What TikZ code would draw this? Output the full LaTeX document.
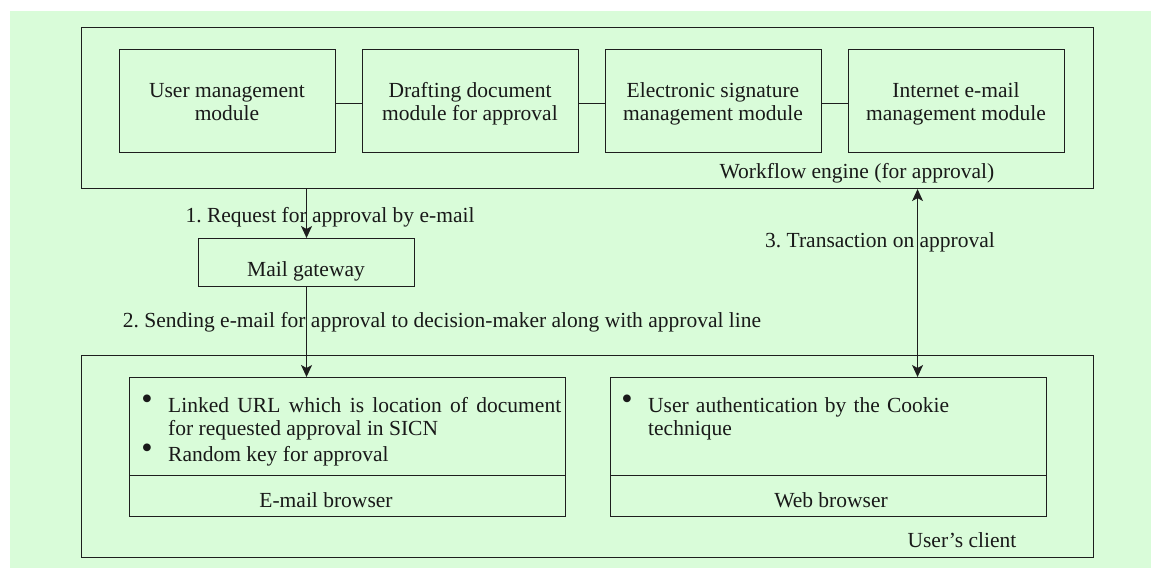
\documentclass[tikz,border=0pt]{standalone}
\usepackage{fontspec}
\setmainfont{Liberation Serif}
\usetikzlibrary{arrows.meta}
\definecolor{bggreen}{RGB}{217,252,217}
\definecolor{lineblack}{RGB}{30,30,30}
\frenchspacing
\begin{document}
\begin{tikzpicture}[x=1pt,y=-1pt,
  box/.style={draw=lineblack, line width=1.1pt, inner sep=0pt, anchor=north west},
  txt/.style={font=\fontsize{21.5}{23.5}\selectfont\frenchspacing, inner sep=0pt, text=black!90},
  modtxt/.style={txt, align=center},
  link/.style={draw=lineblack, line width=1.1pt},
  arr/.style={link, -{Stealth[length=12pt,width=11pt,inset=3pt]}},
  darr/.style={link, {Stealth[length=12pt,width=11pt,inset=3pt]}-{Stealth[length=12pt,width=11pt,inset=3pt]}},
  bul/.style={txt, anchor=base}
]
\useasboundingbox (0,0) rectangle (1151,568);
\fill[bggreen] (10,11) rectangle (1151,568);

% workflow engine
\node[box, minimum width=1012.3pt, minimum height=160.7pt] (wf) at (80.7,27.3) {};
\node[box, minimum width=216pt, minimum height=103pt] (m1) at (119,49) {};
\node[box, minimum width=216pt, minimum height=103pt] (m2) at (362,49) {};
\node[box, minimum width=216pt, minimum height=103pt] (m3) at (605,49) {};
\node[box, minimum width=216pt, minimum height=103pt] (m4) at (848,49) {};
\node[modtxt, anchor=base] (m1t) at (227,120.5) {User management\\module};
\node[modtxt, anchor=base] (m2t) at (470,120.5) {Drafting document\\module for approval};
\node[modtxt, anchor=base] (m3t) at (713,120.5) {Electronic signature\\management module};
\node[modtxt, anchor=base] (m4t) at (956,120.5) {Internet e-mail\\management module};
\draw[link] ([yshift=-2.5pt]m1.east) -- ([yshift=-2.5pt]m2.west);
\draw[link] ([yshift=-2.5pt]m2.east) -- ([yshift=-2.5pt]m3.west);
\draw[link] ([yshift=-2.5pt]m3.east) -- ([yshift=-2.5pt]m4.west);
\node[txt, anchor=base] (wfl) at (857,178) {Workflow engine (for approval)};

% mail gateway
\node[box, minimum width=216pt, minimum height=48pt] (mg) at (198,238) {};
\node[txt, anchor=base] (mgt) at (306,276) {Mail gateway};

% user's client
\node[box, minimum width=1012.3pt, minimum height=202pt] (uc) at (80.7,355) {};
\node[box, minimum width=436pt, minimum height=98pt] (emtop) at (129,377) {};
\node[box, minimum width=436pt, minimum height=41pt] (embot) at (129,475) {};
\node[box, minimum width=436pt, minimum height=98pt] (wbtop) at (610,377) {};
\node[box, minimum width=436pt, minimum height=41pt] (wbbot) at (610,475) {};

\node[bul] (b1) at (147,412) {\raisebox{3pt}{\scalebox{1.5}{•}}};
\node[txt, anchor=base west, text width=393pt, align=justify] (e1) at (168,412)
  {Linked URL which is location of document\linebreak for requested approval in SICN};
\node[bul] (b2) at (147,461) {\raisebox{3pt}{\scalebox{1.5}{•}}};
\node[txt, anchor=base west] (e2) at (168,461) {Random key for approval};
\node[txt, anchor=base] (emt) at (326,507) {E-mail browser};

\node[bul] (b3) at (627,412) {\raisebox{3pt}{\scalebox{1.5}{•}}};
\node[txt, anchor=base west, text width=380pt, align=left] (w1) at (648,412)
  {User authentication by the Cookie\\technique};
\node[txt, anchor=base] (wbt) at (831,507) {Web browser};

\node[txt, anchor=base] (ucl) at (962,547) {User’s client};

% connectors
\draw[arr] (mg.north |- wf.south) -- (mg.north);
\draw[arr] (mg.south) -- (mg.south |- emtop.north);
\draw[darr] ([xshift=89pt]wbtop.north |- wf.south) -- ([xshift=89pt]wbtop.north);

\node[txt, anchor=base] (l1) at (330,222) {1. Request for approval by e-mail};
\node[txt, anchor=base] (l2) at (442,327) {2. Sending e-mail for approval to decision-maker along with approval line};
\node[txt, anchor=base] (l3) at (880,247) {3. Transaction on approval};
\end{tikzpicture}
\end{document}
